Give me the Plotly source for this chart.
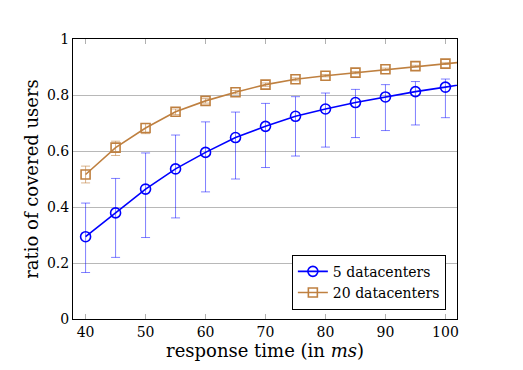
import plotly.graph_objects as go

response_ms = [40, 45, 50, 55, 60, 65, 70, 75, 80, 85, 90, 95, 100, 105]

dc5_mean = [0.294, 0.379, 0.464, 0.536, 0.595, 0.648, 0.688, 0.724, 0.750, 0.773, 0.793, 0.812, 0.828, 0.846]
dc5_hi = [0.414, 0.502, 0.593, 0.657, 0.704, 0.739, 0.770, 0.794, 0.807, 0.820, 0.837, 0.848, 0.857, 0.846]
dc5_lo = [0.166, 0.220, 0.291, 0.361, 0.454, 0.500, 0.541, 0.582, 0.614, 0.648, 0.673, 0.693, 0.719, 0.846]

dc20_mean = [0.516, 0.612, 0.682, 0.740, 0.779, 0.810, 0.837, 0.856, 0.869, 0.880, 0.892, 0.903, 0.912, 0.922]
dc20_hi = [0.546, 0.635, 0.698, 0.750, 0.787, 0.816, 0.843, 0.861, 0.873, 0.884, 0.896, 0.906, 0.915, 0.922]
dc20_lo = [0.486, 0.584, 0.662, 0.730, 0.771, 0.804, 0.831, 0.851, 0.865, 0.876, 0.888, 0.900, 0.909, 0.922]

x_ticks = [40, 50, 60, 70, 80, 90, 100]
y_ticks = [0, 0.2, 0.4, 0.6, 0.8, 1]
y_tick_text = ["0", "0.2", "0.4", "0.6", "0.8", "1"]

BLUE = "#0000ff"
BROWN = "#bf8040"
FONT = "DejaVu Serif"

def errs(mean, hi, lo):
    plus = [h - m for h, m in zip(hi, mean)]
    minus = [m - l for m, l in zip(mean, lo)]
    return plus, minus

p5, m5 = errs(dc5_mean, dc5_hi, dc5_lo)
p20, m20 = errs(dc20_mean, dc20_hi, dc20_lo)

fig = go.Figure()
fig.add_trace(go.Scatter(
    x=response_ms, y=dc5_mean, mode="lines+markers", name="5 datacenters",
    line=dict(color=BLUE, width=1.6),
    marker=dict(symbol="circle-open", size=10, color=BLUE, line=dict(width=1.6, color=BLUE)),
    error_y=dict(type="data", symmetric=False, array=p5, arrayminus=m5,
                 color="rgba(0,0,255,0.5)", thickness=1, width=4.5),
))
fig.add_trace(go.Scatter(
    x=response_ms, y=dc20_mean, mode="lines+markers", name="20 datacenters",
    line=dict(color=BROWN, width=1.6),
    marker=dict(symbol="square-open", size=9, color=BROWN, line=dict(width=1.6, color=BROWN)),
    error_y=dict(type="data", symmetric=False, array=p20, arrayminus=m20,
                 color="rgba(191,128,64,0.6)", thickness=1, width=4.5),
))

fig.update_layout(
    width=515, height=362,
    margin=dict(l=65, r=66, t=31, b=51),
    paper_bgcolor="white", plot_bgcolor="white",
    font=dict(family=FONT, color="black", size=14),
    showlegend=True,
    legend=dict(x=0.971, y=0.033, xanchor="right", yanchor="bottom",
                bgcolor="white", bordercolor="black", borderwidth=1,
                font=dict(family=FONT, size=14), tracegroupgap=0),
    xaxis=dict(range=[37.9, 101.93], tickvals=x_ticks, showgrid=False,
               showline=True, linecolor="black", linewidth=1, mirror="allticks",
               ticks="inside", ticklen=5, tickcolor="#b0b0b0", tickwidth=1,
               tickfont=dict(family=FONT, size=14),
               title=dict(text="response time (in <i>ms</i>)", font=dict(family=FONT, size=18), standoff=2),
               zeroline=False),
    yaxis=dict(range=[0, 1], tickvals=y_ticks, ticktext=y_tick_text, showgrid=True,
               gridcolor="#b8b8b8", gridwidth=1,
               showline=True, linecolor="black", linewidth=1, mirror=True,
               ticks="", tickfont=dict(family=FONT, size=14),
               title=dict(text="ratio of covered users", font=dict(family=FONT, size=18), standoff=3),
               zeroline=False),
)

fig.write_html("out.html")
